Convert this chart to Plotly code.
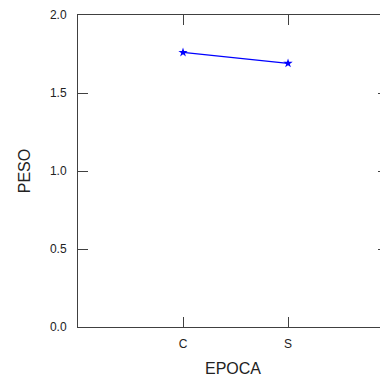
import plotly.graph_objects as go

categories = ["C", "S"]
peso = [1.76, 1.69]
y_ticks = [0.0, 0.5, 1.0, 1.5, 2.0]
y_tick_labels = ["0.0", "0.5", "1.0", "1.5", "2.0"]

x_pos = [1, 2]

fig = go.Figure()
fig.add_trace(go.Scatter(
    x=x_pos, y=peso, mode="lines+markers",
    line=dict(color="#0000ff", width=1.3),
    marker=dict(symbol="star", size=7, color="#0000ff"),
    showlegend=False,
))

axis_color = "#404040"
family = "Liberation Sans, Arial, sans-serif"
tick_font = dict(family=family, size=12, color="#222222")
title_font = dict(family=family, size=16, color="#222222")

fig.update_layout(
    template="none",
    width=380, height=370,
    margin=dict(l=70, r=0, t=7, b=51, autoexpand=False),
    paper_bgcolor="white", plot_bgcolor="white",
    font=tick_font,
    xaxis=dict(
        automargin=False,
        range=[0, 2.952], tickvals=x_pos, ticktext=categories,
        showgrid=False, zeroline=False, showline=True, linecolor=axis_color, linewidth=1,
        mirror="allticks", ticks="inside", ticklen=10, tickcolor=axis_color, tickwidth=1,
        ticklabelstandoff=6,
        title=dict(text="EPOCA", standoff=12, font=title_font),
        tickfont=tick_font,
    ),
    yaxis=dict(
        automargin=False,
        range=[0, 2.0], tickvals=y_ticks, ticktext=y_tick_labels,
        showgrid=False, zeroline=False, showline=True, linecolor=axis_color, linewidth=1,
        mirror="allticks", ticks="inside", ticklen=10, tickcolor=axis_color, tickwidth=1,
        ticklabelstandoff=8,
        title=dict(text="PESO", standoff=15, font=title_font),
        tickfont=tick_font,
    ),
)

fig.write_html("out.html")
